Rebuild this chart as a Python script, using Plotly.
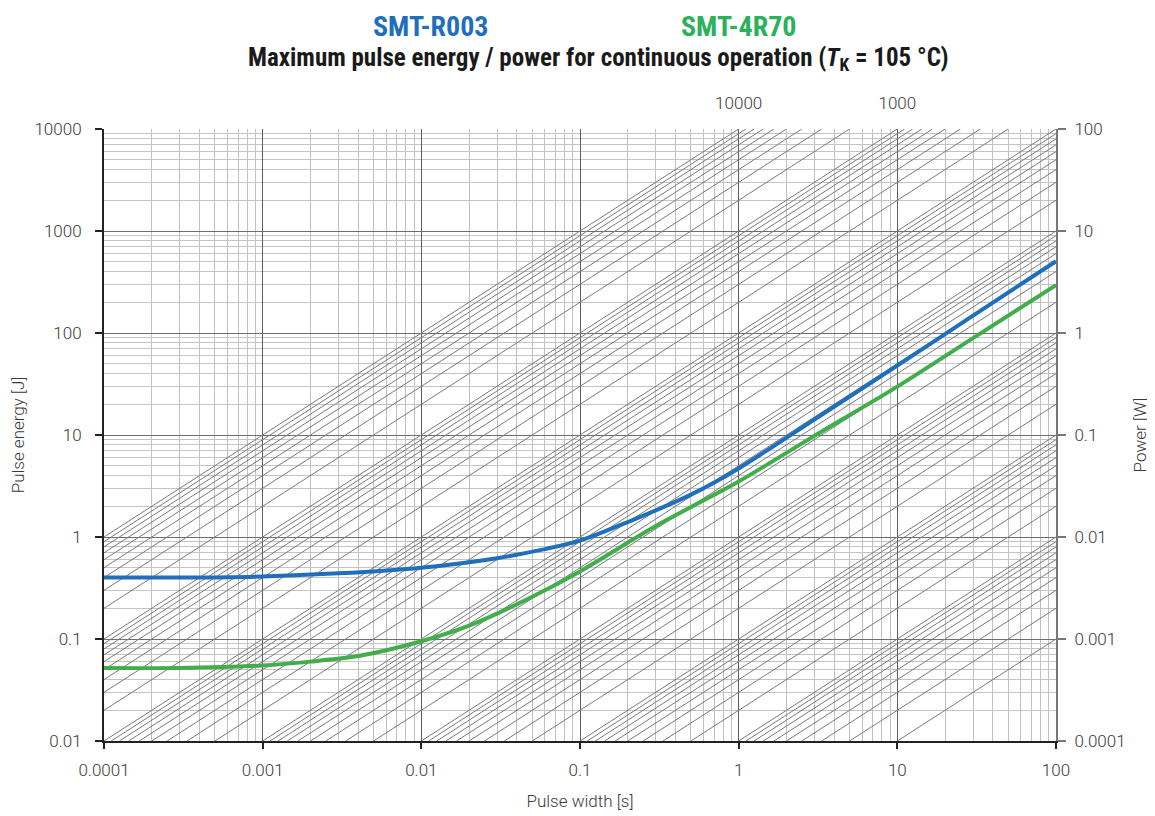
import plotly.graph_objects as go

# ---- data ----
t_r003 = [1e-4, 3e-4, 1e-3, 3e-3, 0.01, 0.03, 0.06, 0.1, 0.2, 0.5, 1, 3, 10, 30, 100]
e_r003 = [0.40, 0.40, 0.41, 0.44, 0.50, 0.62, 0.76, 0.92, 1.4, 2.6, 4.7, 14.2, 48, 148, 505]

t_4r70 = [1e-4, 3e-4, 1e-3, 2e-3, 4e-3, 0.01, 0.02, 0.05, 0.1, 0.3, 1, 3, 10, 30, 100]
e_4r70 = [0.052, 0.052, 0.055, 0.060, 0.068, 0.095, 0.135, 0.26, 0.46, 1.28, 3.5, 9.8, 29.8, 89, 295]

x_ticks = [1e-4, 1e-3, 1e-2, 1e-1, 1, 10, 100]
x_labels = ["0.0001", "0.001", "0.01", "0.1", "1", "10", "100"]
y_ticks = [0.01, 0.1, 1, 10, 100, 1000, 10000]
y_labels = ["0.01", "0.1", "1", "10", "100", "1000", "10000"]
p_ticks = [1e-4, 1e-3, 1e-2, 1e-1, 1, 10, 100]
p_labels = ["0.0001", "0.001", "0.01", "0.1", "1", "10", "100"]
top_ticks = [1, 10]
top_labels = ["10000", "1000"]

# constant-power reference lines (W): k*10^n
power_decades = [-3, -2, -1, 0, 1, 2, 3]
power_digits = [1, 2, 3, 4, 5, 6, 7, 8, 9]
power_levels = [k * 10 ** n for n in power_decades for k in power_digits] + [1e4]

T_MIN, T_MAX, E_MIN, E_MAX = 1e-4, 100, 0.01, 10000

HEAD_FONT = "Liberation Sans Narrow, Roboto Condensed, Roboto, sans-serif"
FONT = "Roboto, Liberation Sans, sans-serif"
BLUE = "#1f6fbd"
GREEN = "#41ad4b"
GREEN_T = "#2bb15b"
TXT = "#3a3a3a"

dx, dy = [], []
for p in power_levels:
    t0 = max(T_MIN, E_MIN / p)
    t1 = min(T_MAX, E_MAX / p)
    if t1 <= t0:
        continue
    dx += [t0, t1, None]
    dy += [p * t0, p * t1, None]

fig = go.Figure()
fig.add_trace(go.Scatter(x=dx, y=dy, mode="lines", line=dict(color="#7a7a7a", width=1),
                         hoverinfo="skip", showlegend=False))
fig.add_trace(go.Scatter(x=t_4r70, y=e_4r70, mode="lines", name="SMT-4R70",
                         line=dict(color=GREEN, width=4, shape="spline", smoothing=0.8),
                         showlegend=False))
fig.add_trace(go.Scatter(x=t_r003, y=e_r003, mode="lines", name="SMT-R003",
                         line=dict(color=BLUE, width=4, shape="spline", smoothing=0.8),
                         showlegend=False))
# invisible traces to hold the secondary axes
fig.add_trace(go.Scatter(x=[1], y=[1], xaxis="x", yaxis="y2", mode="markers",
                         marker=dict(opacity=0), hoverinfo="skip", showlegend=False))
fig.add_trace(go.Scatter(x=[1], y=[1], xaxis="x2", yaxis="y", mode="markers",
                         marker=dict(opacity=0), hoverinfo="skip", showlegend=False))

tickfont = dict(family=FONT, size=17, color=TXT, weight=300)
titlefont = dict(family=FONT, size=17, color=TXT, weight=300)

# page body has an 8px margin: plot area should land at x 104..1056, y 129..741
fig.update_layout(
    width=1147, height=808,
    margin=dict(l=96, r=99, t=121, b=75),
    paper_bgcolor="white", plot_bgcolor="white",
    font=dict(family=FONT, color=TXT),
    xaxis=dict(
        type="log", range=[-4, 2], tickvals=x_ticks, ticktext=x_labels,
        showgrid=True, gridcolor="#5e5e5e", gridwidth=1,
        minor=dict(dtick="D1", showgrid=True, gridcolor="#c0c0c0", gridwidth=1, ticks=""),
        showline=True, linecolor="#222222", linewidth=2,
        ticks="outside", ticklen=6, tickcolor="#222222", tickwidth=2,
        ticklabelstandoff=7,
        tickfont=tickfont, zeroline=False, automargin=False,
        title=dict(text="Pulse width [s]", font=titlefont, standoff=16),
    ),
    xaxis2=dict(
        type="log", range=[-4, 2], overlaying="x", side="top",
        tickvals=top_ticks, ticktext=top_labels, showgrid=False,
        ticks="outside", ticklen=12, tickcolor="rgba(0,0,0,0)",
        showline=False, tickfont=tickfont, zeroline=False, automargin=False,
    ),
    yaxis=dict(
        type="log", range=[-2, 4], tickvals=y_ticks, ticktext=y_labels,
        showgrid=True, gridcolor="#6e6e6e", gridwidth=1,
        minor=dict(dtick="D1", showgrid=True, gridcolor="#c4c4c4", gridwidth=1, ticks=""),
        showline=True, linecolor="#222222", linewidth=2,
        ticks="outside", ticklen=7, tickcolor="#222222", tickwidth=2,
        ticklabelstandoff=10,
        tickfont=tickfont, zeroline=False, automargin=False,
        title=dict(text="Pulse energy [J]", font=titlefont, standoff=14),
    ),
    yaxis2=dict(
        type="log", range=[-4, 2], overlaying="y", side="right",
        tickvals=p_ticks, ticktext=p_labels, showgrid=False,
        showline=True, linecolor="#777777", linewidth=2,
        ticks="outside", ticklen=8, tickcolor="#777777", tickwidth=2,
        ticklabelstandoff=5,
        tickfont=tickfont, zeroline=False, automargin=False,
        title=dict(text="Power [W]", font=titlefont, standoff=9),
    ),
)

# header texts, positioned in screen pixels and converted to paper coords
PL, PT, PW, PH = 104, 129, 952, 612


def px_to_paper(x, y):
    return (x - PL) / PW, (PT + PH - y) / PH


# (text, x, y, y-anchor, size, colour)
headers = [
    ("<b>SMT-R003</b>", 430, 8, "top", 28, BLUE),
    ("<b>SMT-4R70</b>", 738, 8, "top", 28, GREEN_T),
    ("<b>Maximum pulse energy / power for continuous operation (<i>T</i><sub>K</sub> = 105 °C)</b>",
     598, 59, "middle", 25, "#1a1a1a"),
]
anns = []
for text, x, y, yanc, size, color in headers:
    ax, ay = px_to_paper(x, y)
    anns.append(dict(text=text, x=ax, y=ay, xref="paper", yref="paper", showarrow=False,
                     xanchor="center", yanchor=yanc,
                     font=dict(family=HEAD_FONT, size=size, color=color)))
fig.update_layout(annotations=anns)

fig.write_html("out.html")
